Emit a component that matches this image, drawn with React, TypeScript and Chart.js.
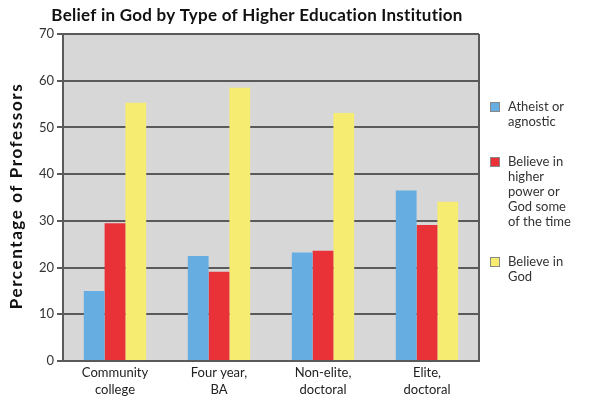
import React, { useEffect, useRef } from "react";
import { Chart, registerables } from "chart.js";

Chart.register(...registerables);

const chartTitle = "Belief in God by Type of Higher Education Institution";
const yAxisTitle = "Percentage of Professors";
const categories: string[][] = [
  ["Community", "college"],
  ["Four year,", "BA"],
  ["Non-elite,", "doctoral"],
  ["Elite,", "doctoral"],
];
const atheistValues = [15, 22.5, 23.2, 36.5];
const higherPowerValues = [29.5, 19.1, 23.6, 29.1];
const believeValues = [55.3, 58.5, 53.1, 34.1];
const seriesLabels: string[][] = [
  ["Atheist or", "agnostic"],
  ["Believe in", "higher", "power or", "God some", "of the time"],
  ["Believe in", "God"],
];
const seriesColors = ["#66ade2", "#e83238", "#f6ec72"];
const yMin = 0;
const yMax = 70;
const yStep = 10;

const FONT = "Lato, 'Open Sans', sans-serif";

const decorPlugin = {
  id: "decor",
  beforeDraw(chart: any) {
    const { ctx, chartArea } = chart;
    ctx.save();
    ctx.fillStyle = "#d7d7d7";
    ctx.fillRect(chartArea.left, chartArea.top, chartArea.right - chartArea.left, chartArea.bottom - chartArea.top);
    ctx.restore();
  },
  afterDraw(chart: any) {
    const { ctx, chartArea } = chart;
    ctx.save();
    // right border
    ctx.strokeStyle = "#5a5a5a";
    ctx.lineWidth = 2;
    ctx.beginPath();
    ctx.moveTo(chartArea.right, chartArea.top);
    ctx.lineTo(chartArea.right, chartArea.bottom);
    ctx.stroke();
    // title
    ctx.fillStyle = "#111";
    ctx.font = `bold 17px ${FONT}`;
    (ctx as any).letterSpacing = "0.25px";
    ctx.textAlign = "center";
    ctx.textBaseline = "middle";
    ctx.fillText(chartTitle, 257, 16);
    // y axis title
    ctx.save();
    (ctx as any).letterSpacing = "1.6px";
    ctx.translate(17, 196);
    ctx.rotate(-Math.PI / 2);
    ctx.fillText(yAxisTitle, 0, 0);
    ctx.restore();
    // legend
    (ctx as any).letterSpacing = "0px";
    const starts = [107, 162, 262];
    ctx.font = `13px ${FONT}`;
    ctx.textAlign = "left";
    seriesLabels.forEach((lines, i) => {
      const y0 = starts[i];
      ctx.fillStyle = seriesColors[i];
      ctx.fillRect(490, y0 - 5, 10, 10);
      ctx.strokeStyle = "#888";
      ctx.lineWidth = 1;
      ctx.strokeRect(490.5, y0 - 4.5, 9, 9);
      ctx.fillStyle = "#333";
      lines.forEach((t, j) => {
        ctx.fillText(t, 508, y0 + j * 15);
      });
    });
    ctx.restore();
  },
};

export default function App() {
  const ref = useRef<HTMLCanvasElement>(null);
  useEffect(() => {
    document.body.style.margin = "0";
    const chart = new Chart(ref.current!, {
      type: "bar",
      data: {
        labels: categories as any,
        datasets: [
          { label: seriesLabels[0].join(" "), data: atheistValues, backgroundColor: seriesColors[0] },
          { label: seriesLabels[1].join(" "), data: higherPowerValues, backgroundColor: seriesColors[1] },
          { label: seriesLabels[2].join(" "), data: believeValues, backgroundColor: seriesColors[2] },
        ],
      },
      options: {
        animation: false,
        responsive: false,
        maintainAspectRatio: false,
        layout: { padding: { top: 34, right: 121, left: 0, bottom: 0 } },
        plugins: { legend: { display: false }, title: { display: false }, tooltip: { enabled: false } },
        datasets: { bar: { categoryPercentage: 0.6, barPercentage: 1.0 } } as any,
        scales: {
          x: {
            grid: { display: false },
            border: { display: true, color: "#5a5a5a", width: 2 },
            ticks: { color: "#222", font: { family: FONT, size: 13, lineHeight: 1.25 }, padding: -4, maxRotation: 0 },
            afterFit(scale: any) {
              scale.height = 38;
            },
          },
          y: {
            min: yMin,
            max: yMax,
            ticks: { stepSize: yStep, color: "#333", font: { family: FONT, size: 13 }, padding: 3 },
            grid: { color: "#5a5a5a", lineWidth: 2, tickLength: 6, drawTicks: true },
            border: { display: true, color: "#5a5a5a", width: 2 },
            afterFit(scale: any) {
              scale.width = 63;
            },
          },
        },
      },
      plugins: [decorPlugin],
    });
    return () => chart.destroy();
  }, []);
  return (
    <div style={{ position: "absolute", left: 0, top: 0, width: 600, height: 399 }}>
      <canvas ref={ref} width={600} height={399} style={{ width: 600, height: 399 }} />
    </div>
  );
}
